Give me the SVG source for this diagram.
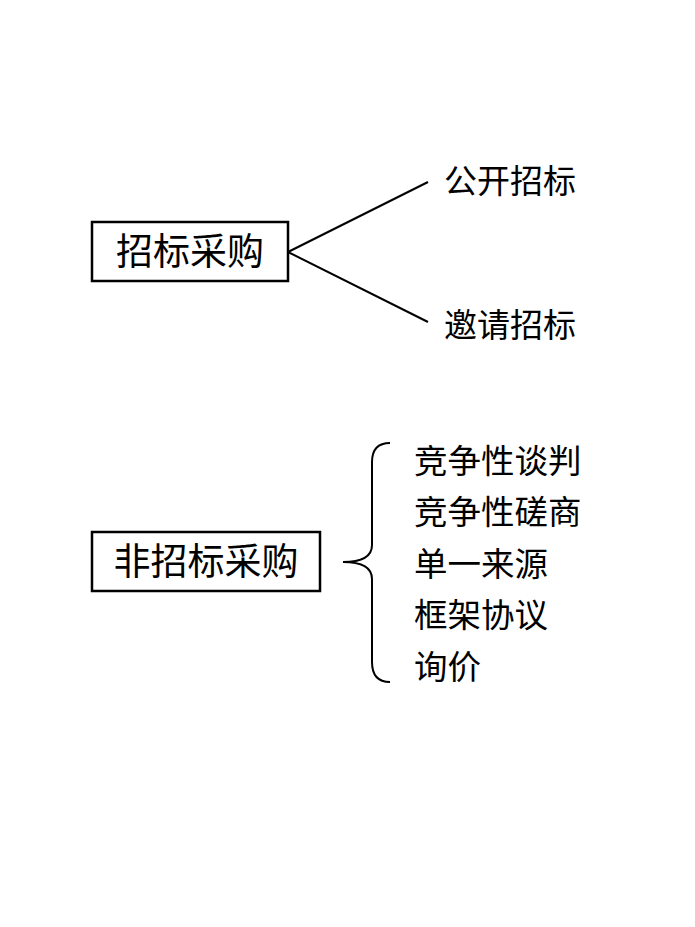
<svg xmlns="http://www.w3.org/2000/svg" width="695" height="927" viewBox="0 0 695 927">
<style>
.t{font-family:"Liberation Sans","Noto Sans CJK SC",sans-serif;fill:#000}
.b{fill:#fff;stroke:#000;stroke-width:2.5}
.l{fill:none;stroke:#000;stroke-width:2}
</style>
<rect width="695" height="927" fill="#fff"/>
<g id="n1"><rect class="b" x="92" y="222" width="196" height="59"/><text class="t" x="190" y="265" font-size="37" text-anchor="middle">招标采购</text></g>
<g id="n2"><text class="t" x="444" y="193" font-size="33">公开招标</text></g>
<g id="n3"><text class="t" x="444" y="337" font-size="33">邀请招标</text></g>
<g id="n4"><rect class="b" x="92" y="532" width="228" height="59"/><text class="t" x="206" y="575" font-size="37" text-anchor="middle">非招标采购</text></g>
<g id="n5" class="t" font-size="33.5">
<text x="414" y="473">竞争性谈判</text>
<text x="414" y="524">竞争性磋商</text>
<text x="414" y="576">单一来源</text>
<text x="414" y="627">框架协议</text>
<text x="414" y="679">询价</text>
</g>
<g id="connectors">
<path class="l" d="M288 252 L428 182 M288 252 L428 322"/>
<path class="l" d="M390 443 Q372 443 372 462 L372 545 Q372 562 343 562 Q372 562 372 579 L372 662 Q372 682 390 682"/>
</g>
</svg>
